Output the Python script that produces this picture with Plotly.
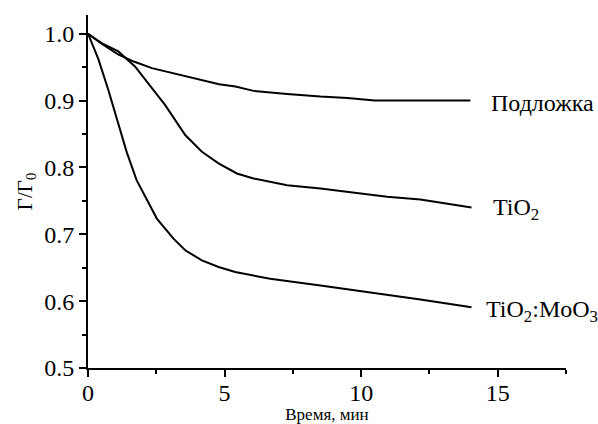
import plotly.graph_objects as go

# Data
x_sub = [0, 0.5, 1.1, 1.7, 2.34, 3.0, 3.56, 4.2, 4.8, 5.4, 6.06, 7.29, 8.51, 9.5, 10.1, 10.5, 12, 14]
y_sub = [1.0, 0.985, 0.969, 0.958, 0.9485, 0.942, 0.936, 0.930, 0.9245, 0.921, 0.9145, 0.910, 0.906, 0.904, 0.901, 0.900, 0.900, 0.900]

x_tio2 = [0, 0.5, 1.11, 1.72, 2.34, 2.82, 3.56, 4.17, 4.78, 5.45, 6.06, 7.29, 8.51, 9.73, 10.95, 12.17, 14.04]
y_tio2 = [1.0, 0.986, 0.9735, 0.951, 0.9185, 0.8935, 0.8485, 0.8235, 0.806, 0.791, 0.7835, 0.7735, 0.7685, 0.762, 0.756, 0.752, 0.740]

x_mix = [0, 0.38, 0.75, 1.11, 1.42, 1.78, 2.15, 2.52, 3.13, 3.56, 4.17, 4.78, 5.39, 6.67, 8.51, 10.34, 12.17, 14.04]
y_mix = [1.0, 0.962, 0.915, 0.864, 0.8225, 0.781, 0.751, 0.7235, 0.6935, 0.676, 0.661, 0.651, 0.6435, 0.6335, 0.6235, 0.6135, 0.6025, 0.591]

labels = ["Подложка", "TiO<sub>2</sub>", "TiO<sub>2</sub>:MoO<sub>3</sub>"]
x_ticks = [0, 5, 10, 15]
y_ticks = [0.5, 0.6, 0.7, 0.8, 0.9, 1.0]
y_ticktext = ["0.5", "0.6", "0.7", "0.8", "0.9", "1.0"]

FONT = "Times New Roman, Liberation Serif, DejaVu Serif, serif"

fig = go.Figure()
for xs, ys in [(x_sub, y_sub), (x_tio2, y_tio2), (x_mix, y_mix)]:
    fig.add_trace(go.Scatter(x=xs, y=ys, mode="lines", line=dict(color="black", width=2), showlegend=False,
                             hoverinfo="skip"))

# curve labels
ann_pos = [(14.67, 0.897), (14.74, 0.738), (14.48, 0.585)]
for (ax, ay), txt in zip(ann_pos, labels):
    fig.add_annotation(x=ax, y=ay, text=txt, showarrow=False, xanchor="left", yanchor="middle",
                       font=dict(family=FONT, size=24, color="black"))

fig.update_layout(
    width=598, height=424,
    margin=dict(l=88, r=32, t=15, b=56),
    plot_bgcolor="white", paper_bgcolor="white",
    font=dict(family=FONT, color="black"),
    xaxis=dict(range=[0, 17.5], tickvals=x_ticks, showline=True, linecolor="black", linewidth=2,
               automargin=False, ticklabelstandoff=-5,
               ticks="outside", ticklen=7, tickwidth=2, tickcolor="black", showgrid=False, zeroline=False,
               tickfont=dict(family=FONT, size=24, color="black"),
               minor=dict(tickvals=[2.5, 7.5, 12.5, 17.5], ticks="outside", ticklen=4, tickwidth=2, tickcolor="black"),
               title=dict(text="Время, мин", font=dict(family=FONT, size=17, color="black"), standoff=4)),
    yaxis=dict(range=[0.5, 1.028], tickvals=y_ticks, ticktext=y_ticktext,
               showline=True, linecolor="black", linewidth=2, automargin=False,
               ticks="outside", ticklen=7, tickwidth=2, tickcolor="black", showgrid=False, zeroline=False,
               tickfont=dict(family=FONT, size=24, color="black"),
               minor=dict(tickvals=[0.55, 0.65, 0.75, 0.85, 0.95], ticks="outside", ticklen=4, tickwidth=2, tickcolor="black"),
               title=dict(text="Γ/Γ<sub>0</sub>", font=dict(family=FONT, size=21, color="black"), standoff=6)),
)

fig.write_html("out.html", config={"displayModeBar": False},
               post_script="document.body.style.margin='0';")
